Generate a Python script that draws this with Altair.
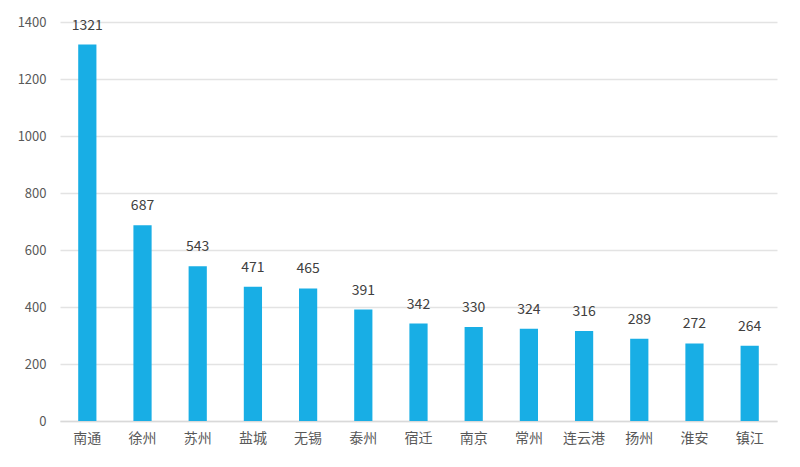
import altair as alt
import pandas as pd

cities = ["南通", "徐州", "苏州", "盐城", "无锡", "泰州", "宿迁", "南京", "常州", "连云港", "扬州", "淮安", "镇江"]
values = [1321, 687, 543, 471, 465, 391, 342, 330, 324, 316, 289, 272, 264]

df = pd.DataFrame({"city": cities, "value": values})

font = "Noto Sans CJK SC"
x = alt.X("city:N", sort=cities, title=None,
          scale=alt.Scale(paddingInner=0.67, paddingOuter=0.33),
          axis=alt.Axis(labelAngle=0, labelFont=font, labelFontSize=14, labelColor="#595959",
                        domainColor="#D9D9D9", domainWidth=1.5, ticks=False, labelPadding=10))
y = alt.Y("value:Q", title=None,
          scale=alt.Scale(domain=[0, 1400]),
          axis=alt.Axis(values=[0, 200, 400, 600, 800, 1000, 1200, 1400], format="d", labelFont=font,
                        labelFontSize=13, labelColor="#595959", gridColor="#E3E3E3", gridWidth=1.5,
                        domain=False, ticks=False, labelPadding=14))

bars = alt.Chart(df).mark_bar(color="#18AEE5").encode(x=x, y=y)
text = alt.Chart(df).mark_text(dy=-12, baseline="bottom", font=font, fontSize=14, color="#404040").encode(
    x=alt.X("city:N", sort=cities), y="value:Q", text="value:Q")

chart = (bars + text).properties(
    width=717, height=399,
    autosize=alt.AutoSizeParams(type="none"),
    padding={"left": 60, "top": 22, "right": 23, "bottom": 46},
).configure_view(stroke=None)

chart.save("out.html", embed_options={"renderer": "svg", "actions": False})
